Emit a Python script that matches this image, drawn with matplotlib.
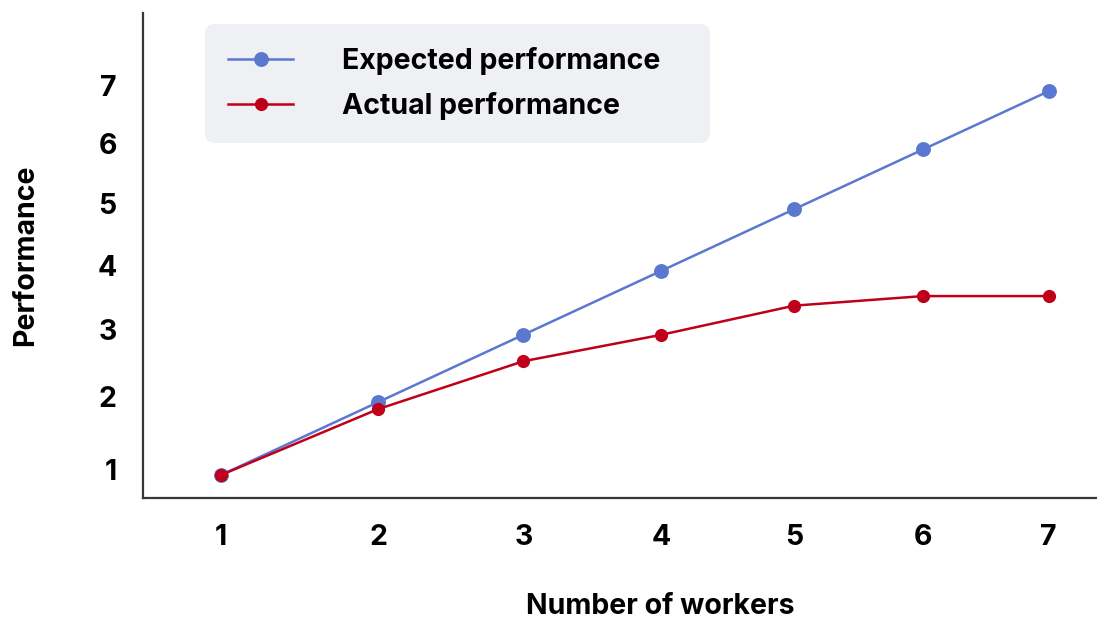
import matplotlib
matplotlib.use("Agg")
import matplotlib.pyplot as plt
import matplotlib.transforms as mtransforms
import numpy as np

plt.rcParams['font.family'] = ['Inter', 'DejaVu Sans']

workers = [1, 2, 3, 4, 5, 6, 7]
expected_perf = [1, 2, 3, 4, 5, 6, 7]
actual_perf = [1, 1.9, 2.6, 3.0, 3.45, 3.6, 3.6]
tick_labels = ['1', '2', '3', '4', '5', '6', '7']

BLUE = '#5b78d0'
RED = '#c0001a'
SPINE = '#3b3533'
POWER = 0.85  # mild compression toward the high end on both axes
FS = 20.5


def forward(v):
    return np.sign(v) * np.abs(v) ** POWER


def inverse(v):
    return np.sign(v) * np.abs(v) ** (1 / POWER)


fig = plt.figure(figsize=(10.97, 6.2), dpi=100)
ax = fig.add_axes([0.1304, 0.1968, 0.8696, 0.7822])

ax.set_xscale('function', functions=(forward, inverse))
ax.set_yscale('function', functions=(forward, inverse))

ax.plot(workers, expected_perf, color=BLUE, lw=1.8, marker='o', markersize=9.5,
        markeredgewidth=1.2, markeredgecolor=BLUE, label='Expected performance', zorder=3)
ax.plot(workers, actual_perf, color=RED, lw=1.8, marker='o', markersize=9.5,
        markeredgewidth=0, label='Actual performance', zorder=4)

ax.set_xlim(0.55, 7.39)
ax.set_ylim(0.709, 8.375)

ax.set_xticks(workers)
ax.set_xticklabels(tick_labels)
ax.set_yticks(expected_perf)
ax.set_yticklabels(tick_labels)
ax.tick_params(axis='both', length=0, labelsize=FS)
ax.tick_params(axis='x', pad=19)
ax.tick_params(axis='y', pad=19)
for lbl in ax.get_xticklabels() + ax.get_yticklabels():
    lbl.set_fontweight('bold')
# nudge the y labels up a little
offset = mtransforms.ScaledTranslation(0, 4 / 72, fig.dpi_scale_trans)
for lbl in ax.get_yticklabels():
    lbl.set_transform(lbl.get_transform() + offset)

for side in ['top', 'right']:
    ax.spines[side].set_visible(False)
for side in ['left', 'bottom']:
    ax.spines[side].set_color(SPINE)
    ax.spines[side].set_linewidth(1.6)

ax.set_xlabel('Number of workers', fontsize=FS, fontweight='bold')
ax.set_ylabel('Performance', fontsize=FS, fontweight='bold')
ax.xaxis.set_label_coords(0.542, -0.196)
ax.yaxis.set_label_coords(-0.109, 0.501)

leg = ax.legend(loc='upper left', bbox_to_anchor=(0.065, 0.743, 0.529, 0.234),
                mode='expand', prop={'weight': 'bold', 'size': FS},
                handlelength=2.3, handletextpad=1.7, labelspacing=0.6,
                borderpad=0.8, borderaxespad=0, facecolor='#eef0f4',
                edgecolor='none', framealpha=1, fancybox=True)
leg.get_frame().set_boxstyle('round', pad=0, rounding_size=0.35)

fig.savefig('out.png', dpi=100)
